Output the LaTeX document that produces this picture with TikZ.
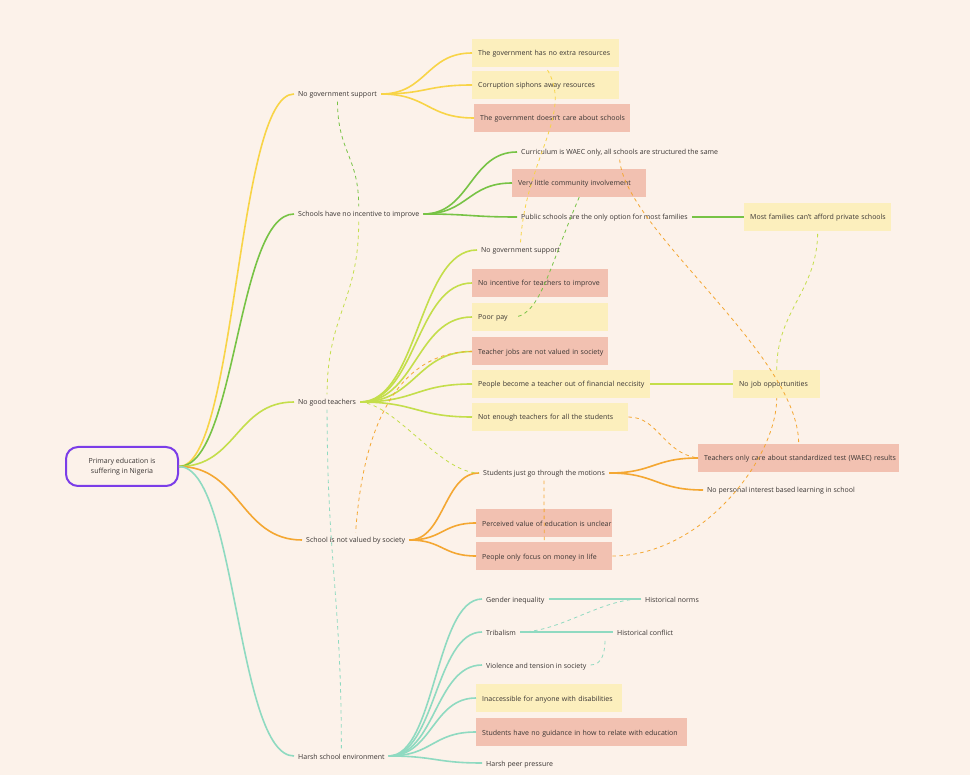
\documentclass[tikz,border=0pt]{standalone}
\usepackage{fontspec}
\setmainfont{Open Sans}
\usetikzlibrary{calc}

\definecolor{bgcol}{HTML}{FCF2EA}
\definecolor{txtcol}{HTML}{3A3533}
\definecolor{cyel}{HTML}{F8D447}
\definecolor{cgrn}{HTML}{77C345}
\definecolor{cygr}{HTML}{C4DE4B}
\definecolor{corg}{HTML}{F4A732}
\definecolor{ctel}{HTML}{8FDAC1}
\definecolor{cpur}{HTML}{7B3DE8}
\definecolor{boxyel}{HTML}{FCEFBD}
\definecolor{boxred}{HTML}{F2C1B1}

\begin{document}
\begin{tikzpicture}[x=1pt, y=-1pt,
                    every node/.style={font=\fontsize{7}{10}\selectfont, text=txtcol, inner xsep=4pt, anchor=west,
                                       text height=7pt, text depth=1pt},
                    yelbox/.style={fill=boxyel, minimum height=28pt, inner xsep=6pt, text width=#1,
                                   execute at begin node=\hbox\bgroup, execute at end node=\egroup},
                    redbox/.style={yelbox=#1, fill=boxred},
                    branch/.style={line width=1.6pt},
                    link/.style={line width=0.8pt, dash pattern=on 3.5pt off 3.5pt}]
\fill[bgcol] (0,0) rectangle (970,775);

% root
\node (Root) [anchor=center, draw=cpur, line width=2pt, rounded corners=12pt, text height=, text depth=,
      minimum width=112pt, minimum height=39pt, align=center] at (122,466.5)
      {Primary education is\\suffering in Nigeria};

% first level
\node (NoGov) at (294,94) {No government support};
\node (NoInc) at (294,214) {Schools have no incentive to improve};
\node (Teach) at (294,402) {No good teachers};
\node (Soc) at (302,540) {School is not valued by society};
\node (Env) at (294,756) {Harsh school environment};

% government
\node (GovRes) [yelbox=135pt] at (472,53) {The government has no extra resources};
\node (Corrupt) [yelbox=135pt] at (472,85) {Corruption siphons away resources};
\node (NoCare) [redbox=144pt] at (474,118) {The government doesn't care about schools};

% incentive
\node (Curric) at (517,152) {Curriculum is WAEC only, all schools are structured the same};
\node (Commun) [redbox=122pt] at (512,183) {Very little community involvement};
\node (Public) at (517,217) {Public schools are the only option for most families};
\node (Afford) [yelbox=135pt] at (744,217) {Most families can't afford private schools};

% teachers
\node (GovNo2) at (477,250) {No government support};
\node (TchInc) [redbox=124pt] at (472,283) {No incentive for teachers to improve};
\node (Pay) [yelbox=124pt] at (472,317) {Poor pay};
\node (Tjobs) [redbox=124pt] at (472,351.5) {Teacher jobs are not valued in society};
\node (Necess) [yelbox=166pt] at (472,384) {People become a teacher out of financial neccisity};
\node (Jobs) [yelbox=75pt] at (733,384) {No job opportunities};
\node (Enough) [yelbox=144pt] at (472,417) {Not enough teachers for all the students};

% society
\node (Motion) at (479,473) {Students just go through the motions};
\node (Waec) [redbox=189pt] at (698,458) {Teachers only care about standardized test (WAEC) results};
\node (NoPers) at (703,490) {No personal interest based learning in school};
\node (Unclear) [redbox=124pt] at (476,523) {Perceived value of education is unclear};
\node (Money) [redbox=124pt] at (476,556) {People only focus on money in life};

% environment
\node (Gender) at (482,599) {Gender inequality};
\node (HNorms) at (641,599) {Historical norms};
\node (Tribal) at (482,632) {Tribalism};
\node (HConf) at (613,632) {Historical conflict};
\node (Violence) at (482,665) {Violence and tension in society};
\node (Access) [yelbox=134pt] at (476,698) {Inaccessible for anyone with disabilities};
\node (Guide) [redbox=199pt] at (476,732) {Students have no guidance in how to relate with education};
\node (Peer) at (482,763) {Harsh peer pressure};

% branches
\foreach \a/\b/\c in {Root/NoGov/cyel, NoGov/GovRes/cyel, NoGov/Corrupt/cyel, NoGov/NoCare/cyel,
                      Root/NoInc/cgrn, NoInc/Curric/cgrn, NoInc/Commun/cgrn, NoInc/Public/cgrn, Public/Afford/cgrn,
                      Root/Teach/cygr, Teach/GovNo2/cygr, Teach/TchInc/cygr, Teach/Pay/cygr, Teach/Tjobs/cygr,
                      Teach/Necess/cygr, Teach/Enough/cygr, Necess/Jobs/cygr,
                      Root/Soc/corg, Soc/Motion/corg, Soc/Unclear/corg, Soc/Money/corg, Motion/Waec/corg, Motion/NoPers/corg,
                      Root/Env/ctel, Env/Gender/ctel, Env/Tribal/ctel, Env/Violence/ctel, Env/Access/ctel,
                      Env/Guide/ctel, Env/Peer/ctel, Gender/HNorms/ctel, Tribal/HConf/ctel}
  \draw[branch, \c] let \p1=(\a.east), \p2=(\b.west) in
    (\p1) .. controls ({(\x1+\x2)/2},\y1) and ({(\x1+\x2)/2},\y2) .. (\p2);

% cross links
\draw[link, cyel] (GovNo2.north) .. controls +(5,-85) and +(30,45) .. (GovRes.south);
\draw[link, cgrn] (Commun.south) .. controls +(-30,70) and +(25,-5) .. ([xshift=44pt]Pay.west);
\draw[link, cgrn] (NoGov.south) .. controls +(0,50) and +(0,-50) .. (NoInc.north);
\draw[link, cygr] (NoInc.south) .. controls +(0,80) and +(0,-80) .. (Teach.north);
\draw[link, ctel] (Teach.south) .. controls +(0,150) and +(0,-150) .. (Env.north);
\draw[link, corg] (Tjobs.west) .. controls +(-52,0) and +(10,-143) .. (Soc.north);
\draw[link, cygr] (Teach.east) .. controls +(37,3) and +(-39,0) .. (Motion.west);
\draw[link, corg] (Motion.south) -- (Money.north);
\draw[link, corg] (Money.east) .. controls +(90,0) and +(0,60) .. (Jobs.south);
\draw[link, cygr] (Jobs.north) .. controls +(0,-60) and +(0,60) .. (Afford.south);
\draw[link, corg] (Curric.south) .. controls +(5,70) and +(0,-90) .. (Waec.north);
\draw[link, corg] (Enough.east) .. controls +(30,0) and +(-35,-5) .. (Waec.west);
\draw[link, ctel] (Tribal.east) .. controls +(40,0) and +(-40,0) .. (HNorms.west);
\draw[link, ctel] (Violence.east) .. controls +(12,0) and +(0,12) .. ([xshift=-8pt]HConf.south west);
\end{tikzpicture}
\end{document}
